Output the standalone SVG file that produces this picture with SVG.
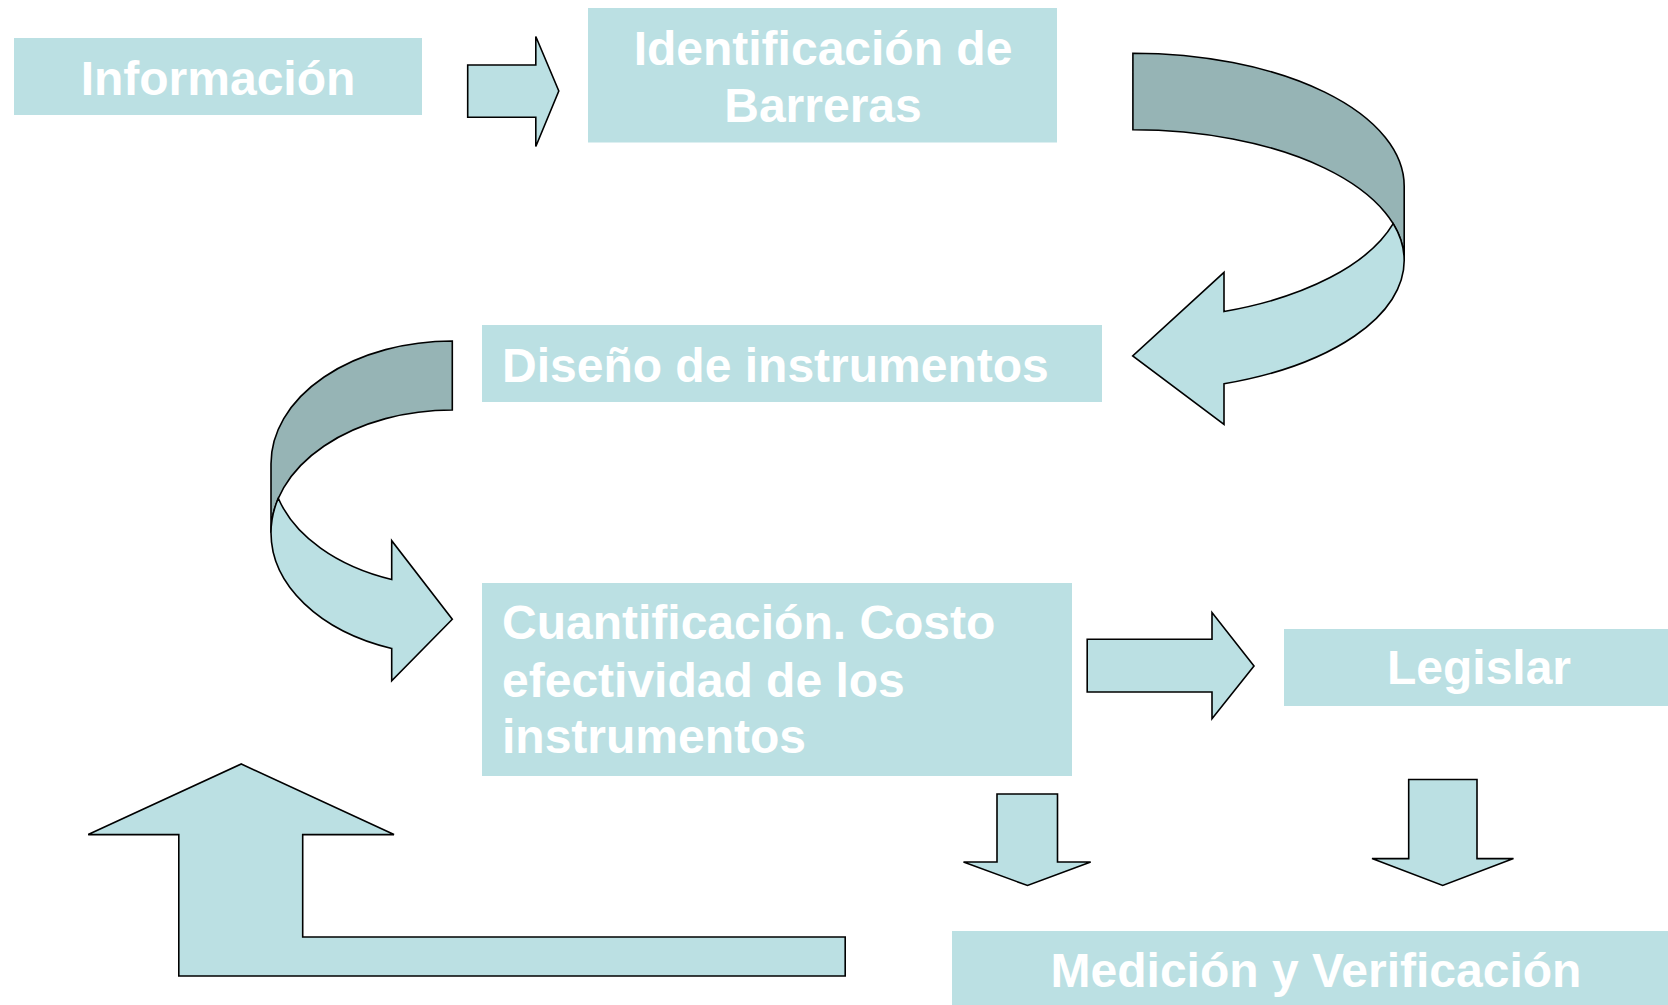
<svg xmlns="http://www.w3.org/2000/svg" width="1668" height="1005" viewBox="0 0 1668 1005">
<style>
.box{fill:#BBE0E3;stroke:none}
.t{font-family:"Liberation Sans",Arial,sans-serif;font-weight:bold;font-size:48px;fill:#FFFFFF}
.c{text-anchor:middle}
.ar{fill:#BBE0E3;stroke:#000;stroke-width:1.6;stroke-linejoin:miter}
.dk{fill:#96B4B5;stroke:#000;stroke-width:1.6}
</style>
<rect width="1668" height="1005" fill="#FFFFFF"/>
<g id="connectors">
<polygon class="ar" points="467.7,65 535.8,65 535.8,36.5 558.8,91 535.8,146.5 535.8,117.3 467.7,117.3"/>
<path class="dk" d="M1132.9,53.2 A271.3 133 0 0 1 1404.2,186.2 L1404.2,260.6 A271.3 130.8 0 0 0 1132.9,129.8 Z"/>
<path class="ar" d="M1393.2,223.7 A271.3 130.8 0 0 1 1404.2,260.6 A271.3 130.8 0 0 1 1224,383.8 L1224,424.5 L1132.7,356 L1224,272.3 L1224,311.5 A271.3 133 0 0 0 1393.2,223.7 Z"/>
<path class="dk" d="M452.3,341 A181.3 122.8 0 0 0 271,463.8 L271,532.8 A181.3 122.8 0 0 1 452.3,410 Z"/>
<path class="ar" d="M278.3,498.3 A181.3 122.8 0 0 0 271,532.8 A181.3 122.8 0 0 0 391.7,648.5 L391.7,680.8 L452.3,619.3 L391.7,540.7 L391.7,579.5 A181.3 122.8 0 0 1 278.3,498.3 Z"/>
<polygon class="ar" points="1087.2,639.3 1212,639.3 1212,612.5 1254,666 1212,718.7 1212,692 1087.2,692"/>
<polygon class="ar" points="997,794 1057.5,794 1057.5,862 1090.7,862 1027.5,885.5 963.5,862 997,862"/>
<polygon class="ar" points="1408.7,779.5 1477,779.5 1477,858.6 1513.5,858.6 1442.7,885.5 1372,858.6 1408.7,858.6"/>
<polygon class="ar" points="241.3,764 394,834.6 302.7,834.6 302.7,937 845.2,937 845.2,976 178.8,976 178.8,834.6 88.2,834.6"/>
</g>
<g id="informacion">
<rect class="box" x="14" y="38" width="408" height="77"/>
<text class="t c" x="218" y="95">Información</text>
</g>
<g id="identificacion">
<rect class="box" x="588" y="8" width="469" height="134.5"/>
<text class="t c" x="823" y="65">Identificación de</text>
<text class="t c" x="823" y="122">Barreras</text>
</g>
<g id="diseno">
<rect class="box" x="482" y="325" width="620" height="77"/>
<text class="t" x="502" y="382">Diseño de instrumentos</text>
</g>
<g id="cuantificacion">
<rect class="box" x="482" y="583" width="590" height="193"/>
<text class="t" x="502" y="639">Cuantificación. Costo</text>
<text class="t" x="502" y="697">efectividad de los</text>
<text class="t" x="502" y="753">instrumentos</text>
</g>
<g id="legislar">
<rect class="box" x="1284" y="629" width="384" height="77"/>
<text class="t c" x="1479" y="684">Legislar</text>
</g>
<g id="medicion">
<rect class="box" x="952" y="931" width="716" height="74"/>
<text class="t c" x="1316" y="987">Medición y Verificación</text>
</g>
</svg>
